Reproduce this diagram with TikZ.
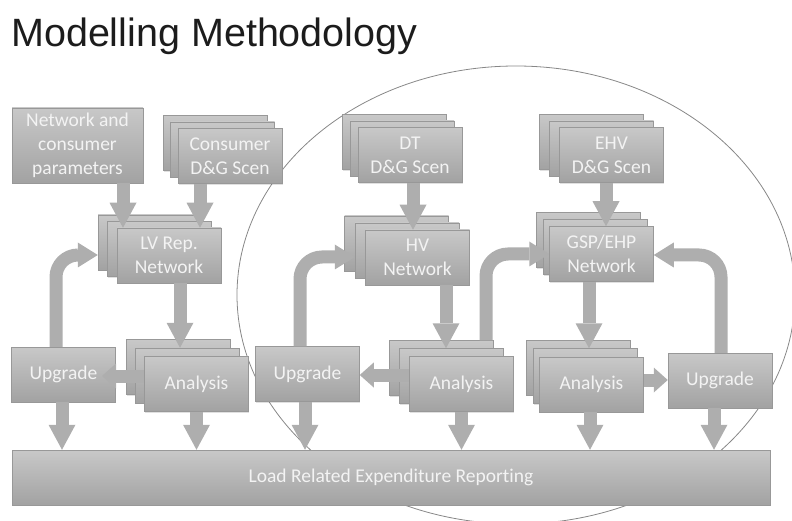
\documentclass[tikz,border=0pt]{standalone}
\usepackage{fontspec}
\setmainfont{Carlito}[Ligatures=NoCommon]
\newfontfamily\titlefont{Liberation Sans}
\usetikzlibrary{arrows.meta,shadows}

\definecolor{boxtop}{RGB}{200,200,200}
\definecolor{boxbot}{RGB}{162,162,162}
\definecolor{boxedge}{RGB}{152,152,152}
\definecolor{flowgray}{RGB}{174,174,174}
\definecolor{boxtext}{RGB}{243,243,243}
\definecolor{ringgray}{RGB}{135,135,135}
\definecolor{titlegray}{RGB}{28,28,28}

\tikzset{
  box/.style={rectangle, top color=boxtop, bottom color=boxbot, draw=boxedge,
    line width=0.5pt, minimum width=104pt, minimum height=55pt, inner sep=0pt,
    align=center, text=boxtext, font=\fontsize{19.5}{24}\selectfont,
    general shadow={fill=black, opacity=0.12, shadow xshift=0.8pt, shadow yshift=-1.2pt}},
  flow/.style={draw=flowgray, line width=13pt},
  downarrow/.style={flow, -{Triangle[width=27pt,length=25pt,line width=0pt]}},
  sidearrow/.style={flow, -{Triangle[width=25pt,length=14pt,line width=0pt]}},
  looparrow/.style={flow, rounded corners=22pt, -{Triangle[width=25pt,length=20pt,line width=0pt]}},
}

% three stacked copies of a box: name, centre x, centre y, step x, step y, text
\newcommand\stackof[6]{%
  \node[box] (#1c) at ({#2-2*#4},{#3-2*#5}) {};
  \node[box] (#1b) at ({#2-#4},{#3-#5}) {};
  \node[box] (#1) at (#2,#3) {#6};
}

\begin{document}
\begin{tikzpicture}[x=1pt,y=-1pt]
\useasboundingbox (0,0) rectangle (792,521);

% title
\node[anchor=base west, inner sep=0pt, text=titlegray,
      font=\titlefont\fontsize{39.5}{44}\selectfont] (title) at (11,47) {Modelling Methodology};

% ring round the HV and EHV part of the process
\draw[ringgray, line width=0.8pt] (516,295) ellipse [x radius=279pt, y radius=229pt];

% inputs
\node[box, minimum width=131pt, minimum height=75pt] (ncp) at (77.5,145.5) {Network and\\consumer\\parameters};
\stackof{cons}{230}{156}{7.5}{6.5}{Consumer\\D\&G Scen}
\stackof{dt}{410}{155}{8}{6.5}{DT\\D\&G Scen}
\stackof{ehv}{611.5}{155}{10}{6.5}{EHV\\D\&G Scen}

% network models
\stackof{lv}{169}{255.5}{9.5}{6.5}{LV Rep.\\Network}
\stackof{hv}{417.5}{257.5}{10.5}{7}{HV\\Network}
\stackof{gsp}{601.5}{254}{6.5}{7}{GSP/EHP\\Network}

% analysis and upgrade
\stackof{anL}{196.5}{384}{9}{8.5}{Analysis}
\stackof{anM}{461.5}{384}{10}{8}{Analysis}
\stackof{anR}{591.5}{384.5}{6.5}{8.5}{Analysis}
\node[box] (upL) at (63.5,374.5) {Upgrade};
\node[box] (upM) at (307.5,374) {Upgrade};
\node[box] (upR) at (720,380.5) {Upgrade};

% reporting bar
\node[box, minimum width=758pt] (bar) at (391,477.5) {Load Related Expenditure Reporting};

\coordinate (upLin) at (102,376);

% into the network models
\draw[downarrow] (123,0 |- ncp.south) -- (123,0 |- lv.north);
\draw[downarrow] (200,0 |- cons.south) -- (200,0 |- lv.north);
\draw[downarrow] (413,0 |- dt.south) -- (413,0 |- hv.north);
\draw[downarrow] (606,0 |- ehv.south) -- (606,0 |- gsp.north);

% network models to analysis
\draw[downarrow] (180,0 |- lv.south) -- (180,0 |- anLb.north);
\draw[downarrow] (446,0 |- hv.south) -- (446,0 |- anMb.north);
\draw[downarrow] (589,0 |- gsp.south) -- (589,0 |- anRb.north);

% everything feeds the reporting
\draw[downarrow] (62,0 |- upL.south) -- (62,0 |- bar.north);
\draw[downarrow] (anL.south) -- (anL.south |- bar.north);
\draw[downarrow] (305,0 |- upM.south) -- (305,0 |- bar.north);
\draw[downarrow] (anM.south) -- (anM.south |- bar.north);
\draw[downarrow] (590,0 |- anR.south) -- (590,0 |- bar.north);
\draw[downarrow] (714,0 |- upR.south) -- (714,0 |- bar.north);

% analysis to upgrade
\draw[sidearrow] (anL.west |- upLin) -- (upLin);
\draw[sidearrow] (anM.west |- 0,375) -- (upM.east |- 0,375);
\draw[sidearrow] (anR.east |- 0,380) -- (upR.west |- 0,380);

% upgrades fed back into the network models
\draw[looparrow] (56,0 |- upL.north) |- (lvc.west |- 0,255);
\draw[looparrow] (300,0 |- upM.north) |- (hvb.west |- 0,257);
\draw[looparrow] (486,0 |- anMc.north) |- (gsp.west |- 0,254);
\draw[looparrow] (721,0 |- upR.north) |- (gsp.east |- 0,255);
\end{tikzpicture}
\end{document}
